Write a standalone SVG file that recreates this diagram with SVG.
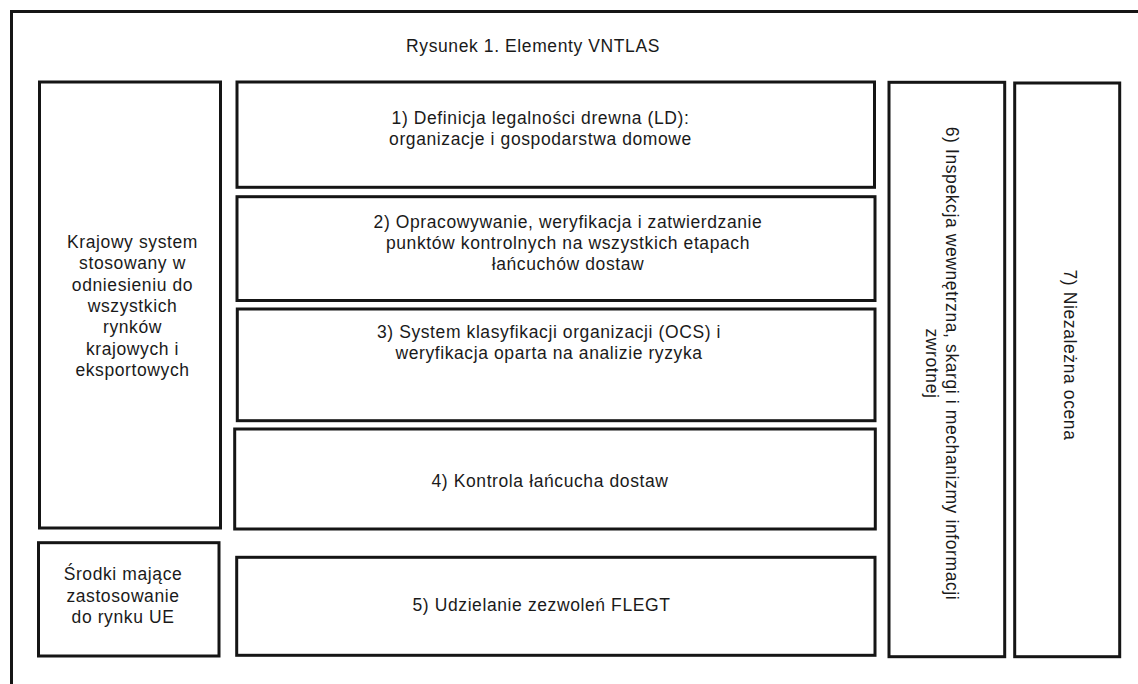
<svg xmlns="http://www.w3.org/2000/svg" width="1138" height="684" viewBox="0 0 1138 684">
<style>
.box{fill:#fff;stroke:#151515;stroke-width:3}
.frame{fill:none;stroke:#151515;stroke-width:3}
text{font-family:"Liberation Sans",Arial,Helvetica,sans-serif;font-size:17.5px;fill:#1a1a1a;letter-spacing:0.6px;text-anchor:middle}
</style>
<rect width="1138" height="684" fill="#fff"/>
<g id="frame">
<polyline class="frame" points="11.5,684 11.5,11.5 1138,11.5"/>
<text x="533" y="52">Rysunek 1. Elementy VNTLAS</text>
</g>
<g id="node-krajowy">
<rect class="box" x="39.5" y="82" width="181" height="446"/>
<text x="132.5" y="248">Krajowy system</text>
<text x="132.5" y="269.3">stosowany w</text>
<text x="132.5" y="290.6">odniesieniu do</text>
<text x="132.5" y="312">wszystkich</text>
<text x="132.5" y="333.3">rynków</text>
<text x="132.5" y="354.6">krajowych i</text>
<text x="132.5" y="376">eksportowych</text>
</g>
<g id="node-srodki">
<rect class="box" x="38.5" y="542.7" width="180.5" height="113.3"/>
<text x="123" y="580">Środki mające</text>
<text x="123" y="601.5">zastosowanie</text>
<text x="123" y="623">do rynku UE</text>
</g>
<g id="node-1">
<rect class="box" x="237" y="82" width="637.5" height="105.3"/>
<text x="540.5" y="124">1) Definicja legalności drewna (LD):</text>
<text x="540.5" y="145">organizacje i gospodarstwa domowe</text>
</g>
<g id="node-2">
<rect class="box" x="237" y="196.7" width="638" height="103.8"/>
<text x="568" y="228">2) Opracowywanie, weryfikacja i zatwierdzanie</text>
<text x="568" y="249">punktów kontrolnych na wszystkich etapach</text>
<text x="568" y="270">łańcuchów dostaw</text>
</g>
<g id="node-3">
<rect class="box" x="237.3" y="309" width="637.7" height="111.7"/>
<text x="549" y="338">3) System klasyfikacji organizacji (OCS) i</text>
<text x="549" y="359">weryfikacja oparta na analizie ryzyka</text>
</g>
<g id="node-4">
<rect class="box" x="234.7" y="429" width="640.6" height="100"/>
<text x="550" y="487">4) Kontrola łańcucha dostaw</text>
</g>
<g id="node-5">
<rect class="box" x="236.7" y="557.3" width="638.3" height="98"/>
<text x="541.5" y="611">5) Udzielanie zezwoleń FLEGT</text>
</g>
<g id="node-6">
<rect class="box" x="889" y="82.3" width="115.7" height="574.4"/>
<text transform="translate(946,363.5) rotate(90)" x="0" y="0">6) Inspekcja wewnętrzna, skargi i mechanizmy informacji</text>
<text transform="translate(926,363.5) rotate(90)" x="0" y="0">zwrotnej</text>
</g>
<g id="node-7">
<rect class="box" x="1014.7" y="83" width="105" height="573.7"/>
<text transform="translate(1064,355) rotate(90)" x="0" y="0">7) Niezależna ocena</text>
</g>
<g id="connectors"/>
</svg>
